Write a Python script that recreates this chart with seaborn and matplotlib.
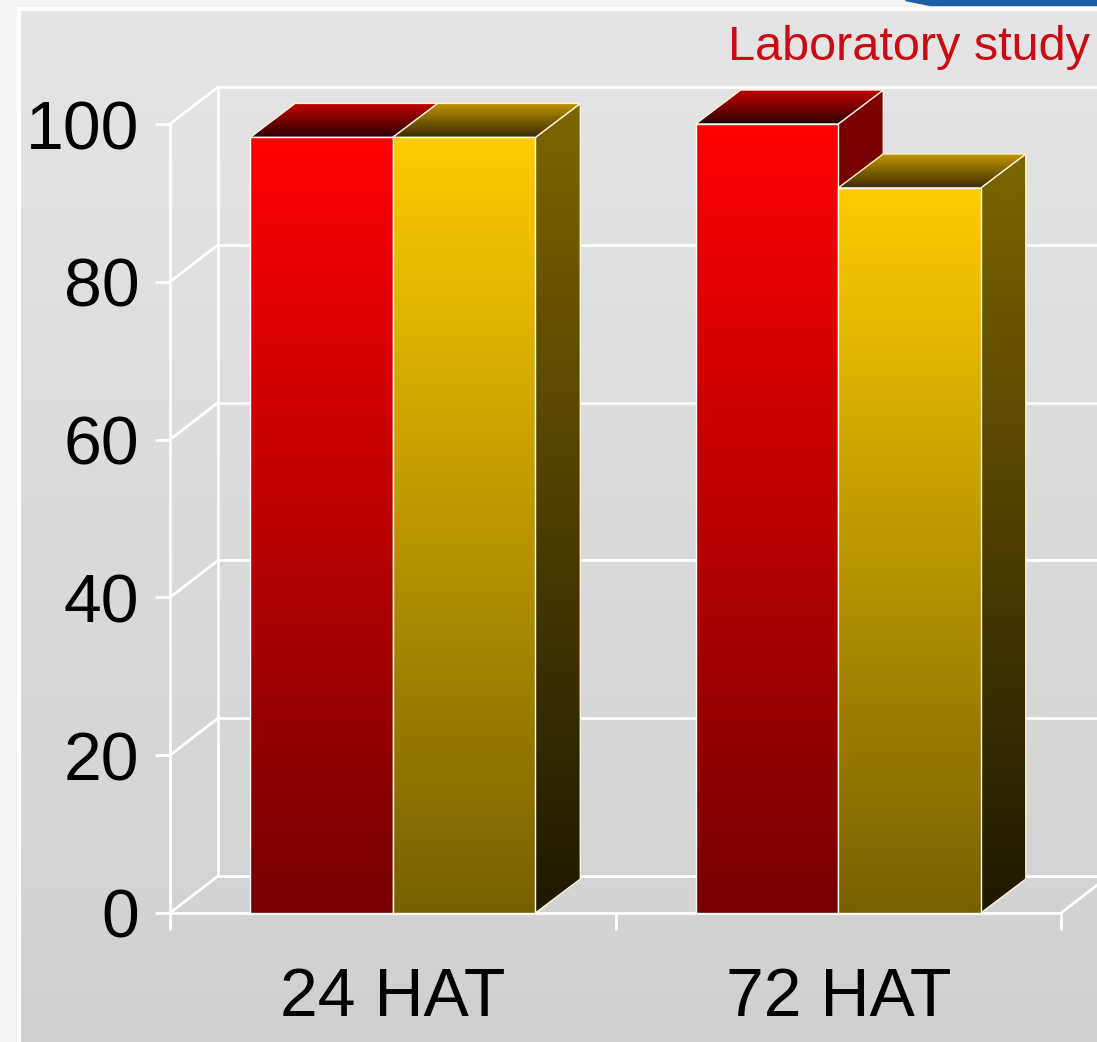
import numpy as np
import pandas as pd
import matplotlib
matplotlib.use("Agg")
import matplotlib.pyplot as plt
from matplotlib.patches import Polygon, Rectangle
import seaborn as sns

# ---------------- data ----------------
categories = ["24 HAT", "72 HAT"]
series_names = ["Series 1", "Series 2"]
series1_values = [98.3, 100.0]
series2_values = [98.3, 91.9]
y_ticks = [0, 20, 40, 60, 80, 100]
title_text = "Laboratory study"

df = pd.DataFrame({
    "time": categories * 2,
    "series": [series_names[0]] * 2 + [series_names[1]] * 2,
    "value": series1_values + series2_values,
})

# ---------------- style ----------------
plt.rcParams["font.family"] = ["Liberation Sans", "DejaVu Sans"]
W, H = 1097, 1042
fig = plt.figure(figsize=(W / 100, H / 100), dpi=100)
fig.patch.set_facecolor("white")

# background panel
bg = fig.add_axes([0, 0, 1, 1], zorder=-10)
bg.set_xlim(0, W)
bg.set_ylim(H, 0)
bg.axis("off")
bg.add_patch(Rectangle((0, 0), W, H, color="#f3f3f3", zorder=0))
panel_grad = np.linspace(0, 1, 256)[:, None]
top_c = np.array([229, 229, 229]) / 255
bot_c = np.array([208, 208, 208]) / 255
img = top_c[None, None, :] * (1 - panel_grad[:, :, None]) + bot_c[None, None, :] * panel_grad[:, :, None]
bg.imshow(img, extent=(21, W + 2, H + 2, 11), aspect="auto", zorder=1)
bg.plot([19, 19, W + 5], [H + 5, 9, 9], color="white", lw=3, zorder=2)
bg.add_patch(Polygon([(905, 0), (W, 0), (W, 5), (930, 5)], closed=True,
                     color="#1b5fa8", zorder=3))

# main axes (front frame of the 3D box)
ax = fig.add_axes([170 / W, (H - 913) / H, 891 / W, 789 / H])
ax.set_facecolor("none")

red = "#ff0000"
yellow = "#ffcc00"
sns.barplot(data=df, x="time", y="value", hue="series", palette=[red, yellow],
            width=0.64, saturation=1, ax=ax, legend=False,
            edgecolor="white", linewidth=1.0)

ax.set_xlim(-0.5, 1.5)
ax.set_ylim(0, 100)
ax.set_autoscale_on(False)

px_x = 2.0 / 891
px_y = 100.0 / 789
bar_dx, bar_dy = 45 * px_x, 34 * px_y
wall_dx, wall_dy = 48 * px_x, 37 * px_y

# walls / gridlines
wc = "white"
lw_g = 2.0
xl = -0.5
for yv in y_ticks:
    ax.plot([xl, xl + wall_dx], [yv, yv + wall_dy], color=wc, lw=lw_g, clip_on=False, zorder=1)
    ax.plot([xl + wall_dx, 1.5 + wall_dx + 0.2], [yv + wall_dy, yv + wall_dy],
            color=wc, lw=lw_g, clip_on=False, zorder=1)
ax.plot([xl + wall_dx, xl + wall_dx], [wall_dy, 100 + wall_dy], color=wc, lw=lw_g, clip_on=False, zorder=1)
ax.plot([1.5, 1.5 + wall_dx], [0, wall_dy], color=wc, lw=lw_g, clip_on=False, zorder=1)

# gradient schemes
schemes = {
    "r": dict(front=((255, 0, 0), (118, 0, 0)), top=((200, 0, 0), (45, 0, 0)),
              side=((128, 0, 0), (40, 0, 0))),
    "y": dict(front=((255, 204, 0), (120, 96, 0)), top=((198, 150, 0), (58, 44, 0)),
              side=((125, 102, 0), (30, 25, 0))),
}


def vgrad(top, bottom, n=256):
    t = np.linspace(0, 1, n)[:, None, None]
    a = np.array(top)[None, None, :] / 255
    b = np.array(bottom)[None, None, :] / 255
    return a * (1 - t) + b * t


def face_image(grad, extent, z, clip_poly):
    im = ax.imshow(grad, extent=extent, aspect="auto", zorder=z, origin="upper")
    im.set_clip_box(fig.bbox)
    im.set_clip_path(clip_poly)
    return im


bars = []
for p in ax.patches:
    fc = p.get_facecolor()
    key = "r" if fc[1] < 0.4 else "y"
    bars.append((p.get_x(), p.get_width(), p.get_height(), key, p))
bars.sort(key=lambda b: b[0])

edge = "#fff4d8"
z = 3
for x0, w, h, key, p in bars:
    s = schemes[key]
    x1 = x0 + w
    # side face
    side = Polygon([(x1, 0), (x1 + bar_dx, bar_dy), (x1 + bar_dx, h + bar_dy), (x1, h)],
                   closed=True, facecolor="none", edgecolor=edge, lw=1.0,
                   zorder=z + 0.5, clip_on=False)
    ax.add_patch(side)
    face_image(vgrad(*s["side"]), (x1, x1 + bar_dx, 0, h + bar_dy), z, side)
    # top face
    top = Polygon([(x0, h), (x1, h), (x1 + bar_dx, h + bar_dy), (x0 + bar_dx, h + bar_dy)],
                  closed=True, facecolor="none", edgecolor=edge, lw=1.0,
                  zorder=z + 1.5, clip_on=False)
    ax.add_patch(top)
    face_image(vgrad(*s["top"]), (x0, x1 + bar_dx, h, h + bar_dy), z + 1, top)
    # front face
    p.set_facecolor("none")
    p.set_zorder(z + 2.5)
    p.set_clip_on(False)
    face_image(vgrad(*s["front"]), (x0, x1, 0, h), z + 2, p)
    z += 3

ax.set_xlim(-0.5, 1.5)
ax.set_ylim(0, 100)

# axes styling
for sp in ["top", "right"]:
    ax.spines[sp].set_visible(False)
ax.spines["left"].set_color("white")
ax.spines["left"].set_linewidth(2)
ax.spines["bottom"].set_color("white")
ax.spines["bottom"].set_linewidth(2)
ax.spines["left"].set_zorder(1)
ax.spines["bottom"].set_zorder(1)

ax.set_yticks(y_ticks)
ax.set_yticklabels([str(v) for v in y_ticks])
ax.tick_params(axis="y", length=11, width=2, color="white", pad=11,
               labelsize=49, labelcolor="black")
ax.set_xticks([0, 1])
ax.set_xticklabels(categories)
ax.tick_params(axis="x", which="major", length=0, pad=38, labelsize=49, labelcolor="black")
ax.set_xticks([-0.5, 0.5, 1.5], minor=True)
ax.tick_params(axis="x", which="minor", length=12, width=2, color="white")
ax.set_xlabel("")
ax.set_ylabel("")
ax.grid(False)

fig.text(1090 / W, 1 - 47 / H, title_text, ha="right", va="center",
         color="#cc0a14", fontsize=35)

fig.savefig("out.png", dpi=100)
